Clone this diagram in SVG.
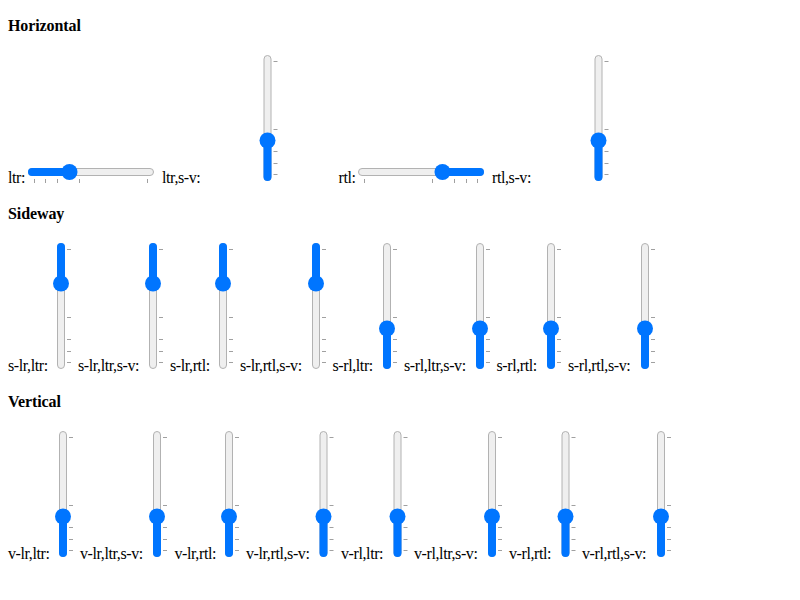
<svg xmlns="http://www.w3.org/2000/svg" xmlns:xlink="http://www.w3.org/1999/xlink" width="800" height="600" viewBox="0 0 800 600">
<style>
text{font-family:"Liberation Serif","Times New Roman",serif;font-size:16px;fill:#000;letter-spacing:-0.4px}
.h{font-weight:bold;letter-spacing:-0.1px}
.track{fill:#efefef;stroke:#b2b2b2;stroke-width:1}
.fill{fill:#0075ff}
.tick{stroke:#a0a0a0;stroke-width:1;fill:none}
</style>
<defs>
<g id="vtrack">
<rect class="track" x="-3.5" y="0.5" width="7" height="125" rx="3.5"/>
<path class="tick" d="M6,6.5h4M6,74.5h4M6,96.5h4M6,108.5h4M6,119.5h4"/>
</g>
<g id="vlow">
<rect class="fill" x="-4" y="85.5" width="8" height="40.5" rx="4"/>
<circle class="fill" cx="0" cy="85.5" r="8"/>
</g>
<g id="vhigh">
<rect class="fill" x="-4" y="0" width="8" height="41" rx="4"/>
<circle class="fill" cx="0" cy="40.5" r="8"/>
</g>
<rect id="htrack" class="track" x="0.5" y="0.5" width="125" height="7" rx="3.5"/>
</defs>

<text class="h" x="8" y="31">Horizontal</text>
<text class="h" x="8" y="219">Sideway</text>
<text class="h" x="8" y="407">Vertical</text>

<!-- Horizontal row -->
<g id="h-ltr">
<text x="8" y="183">ltr:</text>
<use xlink:href="#htrack" x="28" y="168"/>
<rect class="fill" x="28" y="168" width="42" height="8" rx="4"/>
<circle class="fill" cx="69.5" cy="172" r="8"/>
<path class="tick" d="M34.5,179v4M45.5,179v4M57.5,179v4M79.5,179v4M147.5,179v4"/>
</g>
<g id="h-ltr-sv">
<text x="162" y="183">ltr,s-v:</text>
<use xlink:href="#vtrack" x="267.5" y="55"/>
<use xlink:href="#vlow" x="267.5" y="55"/>
</g>
<g id="h-rtl">
<text x="338.5" y="183">rtl:</text>
<use xlink:href="#htrack" x="358" y="168"/>
<rect class="fill" x="442" y="168" width="42" height="8" rx="4"/>
<circle class="fill" cx="442.5" cy="172" r="8"/>
<path class="tick" d="M364.5,179v4M432.5,179v4M454.5,179v4M466.5,179v4M477.5,179v4"/>
</g>
<g id="h-rtl-sv">
<text x="492" y="183">rtl,s-v:</text>
<use xlink:href="#vtrack" x="598.5" y="55"/>
<use xlink:href="#vlow" x="598.5" y="55"/>
</g>

<!-- Sideway row -->
<g id="s-lr-ltr">
<text x="8" y="371">s-lr,ltr:</text>
<use xlink:href="#vtrack" x="61" y="243"/>
<use xlink:href="#vhigh" x="61" y="243"/>
</g>
<g id="s-lr-ltr-sv">
<text x="78" y="371">s-lr,ltr,s-v:</text>
<use xlink:href="#vtrack" x="153" y="243"/>
<use xlink:href="#vhigh" x="153" y="243"/>
</g>
<g id="s-lr-rtl">
<text x="170" y="371">s-lr,rtl:</text>
<use xlink:href="#vtrack" x="223" y="243"/>
<use xlink:href="#vhigh" x="223" y="243"/>
</g>
<g id="s-lr-rtl-sv">
<text x="240" y="371">s-lr,rtl,s-v:</text>
<use xlink:href="#vtrack" x="316" y="243"/>
<use xlink:href="#vhigh" x="316" y="243"/>
</g>
<g id="s-rl-ltr">
<text x="332.5" y="371">s-rl,ltr:</text>
<use xlink:href="#vtrack" x="387" y="243"/>
<use xlink:href="#vlow" x="387" y="243"/>
</g>
<g id="s-rl-ltr-sv">
<text x="404" y="371">s-rl,ltr,s-v:</text>
<use xlink:href="#vtrack" x="480" y="243"/>
<use xlink:href="#vlow" x="480" y="243"/>
</g>
<g id="s-rl-rtl">
<text x="496.5" y="371">s-rl,rtl:</text>
<use xlink:href="#vtrack" x="551" y="243"/>
<use xlink:href="#vlow" x="551" y="243"/>
</g>
<g id="s-rl-rtl-sv">
<text x="568" y="371">s-rl,rtl,s-v:</text>
<use xlink:href="#vtrack" x="645" y="243"/>
<use xlink:href="#vlow" x="645" y="243"/>
</g>

<!-- Vertical row -->
<g id="v-lr-ltr">
<text x="8" y="558.5">v-lr,ltr:</text>
<use xlink:href="#vtrack" x="63" y="431"/>
<use xlink:href="#vlow" x="63" y="431"/>
</g>
<g id="v-lr-ltr-sv">
<text x="80" y="558.5">v-lr,ltr,s-v:</text>
<use xlink:href="#vtrack" x="157" y="431"/>
<use xlink:href="#vlow" x="157" y="431"/>
</g>
<g id="v-lr-rtl">
<text x="174.5" y="558.5">v-lr,rtl:</text>
<use xlink:href="#vtrack" x="229" y="431"/>
<use xlink:href="#vlow" x="229" y="431"/>
</g>
<g id="v-lr-rtl-sv">
<text x="246" y="558.5">v-lr,rtl,s-v:</text>
<use xlink:href="#vtrack" x="323.5" y="431"/>
<use xlink:href="#vlow" x="323.5" y="431"/>
</g>
<g id="v-rl-ltr">
<text x="341" y="558.5">v-rl,ltr:</text>
<use xlink:href="#vtrack" x="397.5" y="431"/>
<use xlink:href="#vlow" x="397.5" y="431"/>
</g>
<g id="v-rl-ltr-sv">
<text x="414" y="558.5">v-rl,ltr,s-v:</text>
<use xlink:href="#vtrack" x="492" y="431"/>
<use xlink:href="#vlow" x="492" y="431"/>
</g>
<g id="v-rl-rtl">
<text x="509" y="558.5">v-rl,rtl:</text>
<use xlink:href="#vtrack" x="565.5" y="431"/>
<use xlink:href="#vlow" x="565.5" y="431"/>
</g>
<g id="v-rl-rtl-sv">
<text x="582" y="558.5">v-rl,rtl,s-v:</text>
<use xlink:href="#vtrack" x="661" y="431"/>
<use xlink:href="#vlow" x="661" y="431"/>
</g>
</svg>
